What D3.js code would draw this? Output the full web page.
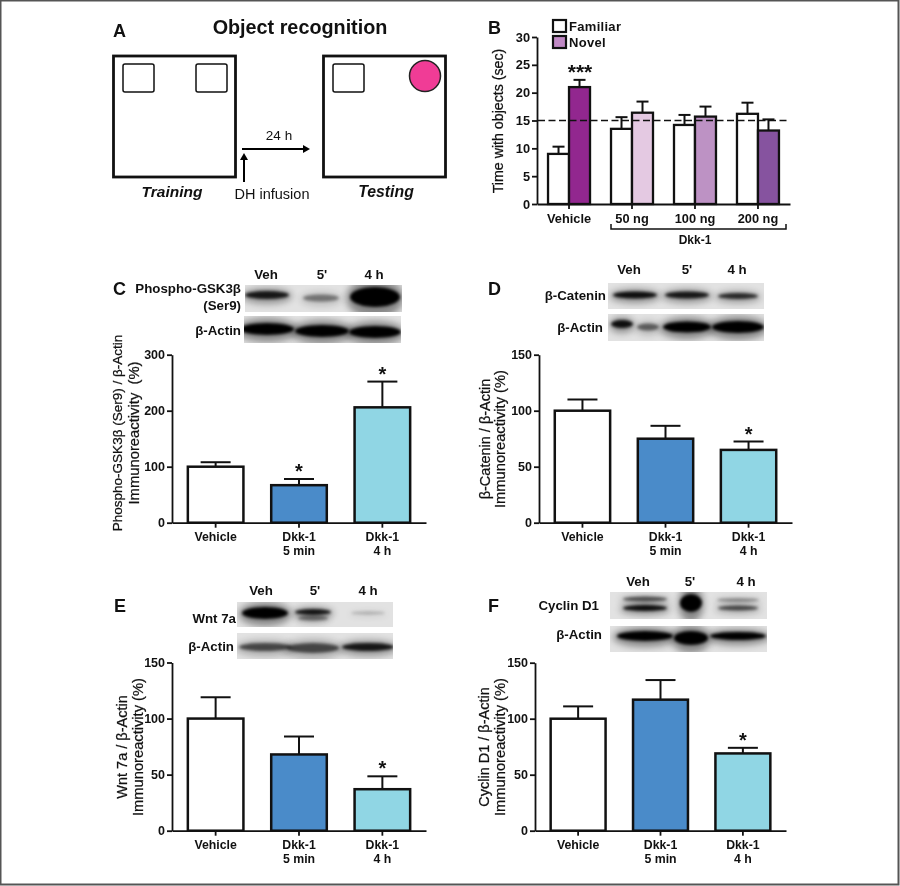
<!DOCTYPE html>
<html>
<head>
<meta charset="utf-8">
<title>Object recognition</title>
<script src="https://cdn.jsdelivr.net/npm/d3@7"></script>
<style>
  html, body { margin: 0; padding: 0; background: #fff; }
  svg { display: block; filter: blur(0.3px); }
  text { font-family: "Liberation Sans", Arial, sans-serif; fill: #111; }
  .tick text { font-weight: bold; font-size: 12.5px; }
  .b .tick text { font-size: 12.8px; }
  .ylab { stroke: #111; stroke-width: 0.25px; white-space: pre; }
</style>
</head>
<body>
<script>
'use strict';

// panel B
const groupsB = ["Vehicle", "50 ng", "100 ng", "200 ng"];
const familiar = [9, 13.5, 14.2, 16.2];
const familiarTop = [10.3, 15.6, 16, 18.2];
const novel = [21, 16.4, 15.7, 13.2];
const novelTop = [22.3, 18.4, 17.5, 15.2];
const novelColors = ["#92278f", "#e4c9e2", "#bd92c4", "#86539f"];
const ticksB = [0, 5, 10, 15, 20, 25, 30];

// panels C to F share the categories and colours
const categories = ["Vehicle", "Dkk-1|5 min", "Dkk-1|4 h"];
const barColors = ["#ffffff", "#4a8bc9", "#90d6e4"];

const valuesC = [100, 67, 206];
const topsC = [108, 78, 252];
const starsC = [false, true, true];
const ticksC = [0, 100, 200, 300];

const valuesD = [100, 75, 65];
const topsD = [110, 86.5, 72.5];
const starsD = [false, false, true];

const valuesE = [100, 68, 37];
const topsE = [119, 84, 48.5];
const starsE = [false, false, true];

const valuesF = [100, 117, 69];
const topsF = [111, 134.5, 74];
const starsF = [false, false, true];

const ticks150 = [0, 50, 100, 150];

const svg = d3.select('body').append('svg')
  .attr('width', 900)
  .attr('height', 886);

svg.append('rect').attr('width', 900).attr('height', 886).attr('fill', '#fff');

// frame round the figure
svg.append('rect')
  .attr('x', 0.5).attr('y', 0.5)
  .attr('width', 898).attr('height', 884)
  .attr('fill', 'none')
  .attr('stroke', '#555')
  .attr('stroke-width', 2);

let defs = svg.append('defs');
defs.append('filter').attr('id', 'soft')
  .attr('x', '-40%').attr('y', '-80%').attr('width', '180%').attr('height', '260%')
  .append('feGaussianBlur').attr('stdDeviation', 1.8);
defs.append('filter').attr('id', 'haze')
  .attr('x', '-40%').attr('y', '-80%').attr('width', '180%').attr('height', '260%')
  .append('feGaussianBlur').attr('stdDeviation', 3.5);

function label(x, y, str, size, opts) {
  opts = opts || {};
  return svg.append('text')
    .attr('x', x)
    .attr('y', y)
    .attr('text-anchor', opts.anchor || 'middle')
    .style('font-size', size + 'px')
    .style('font-weight', opts.weight || 'bold')
    .style('font-style', opts.italic ? 'italic' : 'normal')
    .text(str);
}

function arrowHead(d) {
  svg.append('path').attr('d', d).attr('fill', '#000');
}

// panel A: the arenas
function drawPanelA() {
  label(113, 37, 'A', 18, { anchor: 'start' });
  label(300, 34, 'Object recognition', 19.8);

  [113.5, 323.5].forEach((x) => {
    svg.append('rect')
      .attr('x', x).attr('y', 56)
      .attr('width', 122).attr('height', 121)
      .attr('fill', '#fff')
      .attr('stroke', '#111')
      .attr('stroke-width', 2.8);
  });

  [123, 196, 333].forEach((x) => {
    svg.append('rect')
      .attr('x', x).attr('y', 64)
      .attr('width', 31).attr('height', 28)
      .attr('rx', 2)
      .attr('fill', '#fff')
      .attr('stroke', '#111')
      .attr('stroke-width', 1.5);
  });

  svg.append('circle')
    .attr('cx', 425).attr('cy', 76).attr('r', 15.5)
    .attr('fill', '#f03c96')
    .attr('stroke', '#222')
    .attr('stroke-width', 1.5);

  svg.append('line').attr('x1', 242).attr('x2', 304).attr('y1', 149).attr('y2', 149)
    .attr('stroke', '#000').attr('stroke-width', 2);
  arrowHead('M310,149 L303,145 L303,153 Z');
  svg.append('line').attr('x1', 244).attr('x2', 244).attr('y1', 182).attr('y2', 159)
    .attr('stroke', '#000').attr('stroke-width', 2);
  arrowHead('M244,153 L240,160 L248,160 Z');

  label(279, 140, '24 h', 13.5, { weight: 'normal' });
  label(272, 199, 'DH infusion', 14.5, { weight: 'normal' });
  label(172, 197, 'Training', 15.5, { italic: true });
  label(386, 197, 'Testing', 15.8, { italic: true });
}

// panel B: grouped bars with the dashed line at 15
function drawPanelB() {
  let g = svg.append('g').attr('class', 'b');

  let y = d3.scaleLinear().domain([0, 30]).range([204, 37]);
  let x = d3.scaleBand().domain(groupsB).range([537, 790])
    .paddingInner(1 / 3).paddingOuter(0.175);
  let x1 = d3.scaleBand().domain(['Familiar', 'Novel']).range([0, x.bandwidth()]);

  let rows = [];
  groupsB.forEach((name, i) => {
    rows.push({ name: name, kind: 'Familiar', v: familiar[i], top: familiarTop[i], fill: '#fff' });
    rows.push({ name: name, kind: 'Novel', v: novel[i], top: novelTop[i], fill: novelColors[i] });
  });

  let cx = (d) => x(d.name) + x1(d.kind) + x1.bandwidth() / 2;

  // error bars first so the bar outline sits on top
  rows.forEach((d) => {
    g.append('line').attr('x1', cx(d)).attr('x2', cx(d)).attr('y1', y(d.v)).attr('y2', y(d.top))
      .attr('stroke', '#111').attr('stroke-width', 2);
    g.append('line').attr('x1', cx(d) - 6).attr('x2', cx(d) + 6).attr('y1', y(d.top)).attr('y2', y(d.top))
      .attr('stroke', '#111').attr('stroke-width', 2);
  });

  g.selectAll('.bar').data(rows).enter()
    .append('rect')
    .attr('x', (d) => x(d.name) + x1(d.kind))
    .attr('y', (d) => y(d.v))
    .attr('width', x1.bandwidth())
    .attr('height', (d) => y(0) - y(d.v))
    .attr('fill', (d) => d.fill)
    .attr('stroke', '#111')
    .attr('stroke-width', 2.3);

  g.append('line')
    .attr('x1', 538).attr('x2', 787)
    .attr('y1', y(15)).attr('y2', y(15))
    .attr('stroke', '#111')
    .attr('stroke-width', 1.6)
    .attr('stroke-dasharray', '7,3.5');

  let yAxis = d3.axisLeft(y).tickValues(ticksB).tickSize(5).tickSizeOuter(0).tickPadding(2);
  g.append('g').attr('transform', 'translate(537,0)').call(yAxis);

  let xAxis = d3.axisBottom(x).tickSize(5).tickSizeOuter(0).tickPadding(5);
  g.append('g').attr('transform', 'translate(0,204)').call(xAxis);

  g.selectAll('.domain, .tick line').attr('stroke', '#111').attr('stroke-width', 1.8);
  g.selectAll('.tick text').attr('fill', '#111');

  // legend
  [['Familiar', '#fff', 28], ['Novel', '#c089c5', 44]].forEach((row) => {
    g.append('rect').attr('x', 553).attr('y', row[2] - 8).attr('width', 13).attr('height', 12)
      .attr('fill', row[1]).attr('stroke', '#111').attr('stroke-width', 2.2);
    label(569, row[2] + 3, row[0], 13, { anchor: 'start' }).style('letter-spacing', '0.3px');
  });

  label(488, 34, 'B', 18, { anchor: 'start' });
  label(580, 79, '***', 21);

  // Dkk-1 bracket
  g.append('path')
    .attr('d', 'M611,224 V229 H786 V224')
    .attr('fill', 'none')
    .attr('stroke', '#111')
    .attr('stroke-width', 1.5);
  label(695, 244, 'Dkk-1', 12);

  svg.append('text')
    .attr('class', 'ylab')
    .attr('transform', 'translate(503,121)rotate(-90)')
    .attr('text-anchor', 'middle')
    .style('font-size', '14.2px')
    .text('Time with objects (sec)');
}

// one of the lower panels: three bars with error caps and a western blot above
function drawBars(p) {
  let g = svg.append('g');

  let y = d3.scaleLinear().domain(p.domain).range([p.y0, p.y1]);
  let x = d3.scaleBand().domain(categories).range([p.axisX, p.axisEnd])
    .paddingInner(1 / 3).paddingOuter(0.19);

  let rows = categories.map((c, i) => ({
    c: c, v: p.values[i], top: p.tops[i], fill: barColors[i], star: p.stars[i]
  }));
  let cx = (d) => x(d.c) + x.bandwidth() / 2;

  rows.forEach((d) => {
    g.append('line').attr('x1', cx(d)).attr('x2', cx(d)).attr('y1', y(d.v)).attr('y2', y(d.top))
      .attr('stroke', '#111').attr('stroke-width', 2);
    g.append('line').attr('x1', cx(d) - 15).attr('x2', cx(d) + 15).attr('y1', y(d.top)).attr('y2', y(d.top))
      .attr('stroke', '#111').attr('stroke-width', 2);
    if (d.star) {
      label(cx(d), y(d.top) - 1, '*', 20);
    }
  });

  g.selectAll('.bar').data(rows).enter()
    .append('rect')
    .attr('x', (d) => x(d.c))
    .attr('y', (d) => y(d.v))
    .attr('width', x.bandwidth())
    .attr('height', (d) => y(0) - y(d.v))
    .attr('fill', (d) => d.fill)
    .attr('stroke', '#111')
    .attr('stroke-width', 2.5);

  let yAxis = d3.axisLeft(y).tickValues(p.ticks).tickSize(5).tickSizeOuter(0).tickPadding(2);
  g.append('g').attr('transform', 'translate(' + p.axisX + ',0)').call(yAxis);

  let xAxis = d3.axisBottom(x).tickSize(5).tickSizeOuter(0).tickPadding(3).tickFormat('');
  g.append('g').attr('transform', 'translate(0,' + p.y0 + ')').call(xAxis);

  g.selectAll('.domain, .tick line').attr('stroke', '#111').attr('stroke-width', 1.8);
  g.selectAll('.tick text').attr('fill', '#111');

  // x labels are two lines so they are added by hand
  categories.forEach((c) => {
    let parts = c.split('|');
    let mid = x(c) + x.bandwidth() / 2;
    parts.forEach((t, k) => {
      label(mid, p.y0 + 18 + k * 14, t, 12.3);
    });
  });

  // rotated y label, two lines
  p.yLabel.forEach((t, k) => {
    svg.append('text')
      .attr('class', 'ylab')
      .attr('transform', 'translate(' + p.labelX[k] + ',' + p.labelY + ')rotate(-90)')
      .attr('text-anchor', 'middle')
      .style('font-size', p.labelSize[k] + 'px')
      .text(t);
  });

  label(p.letter[1], p.letter[2], p.letter[0], 18, { anchor: 'start' });
}

// the blot photographs are only approximated: grey strip plus blurred dark bands
function drawBlot(x, y, w, h, bands) {
  let g = svg.append('g');
  g.append('rect')
    .attr('x', x).attr('y', y)
    .attr('width', w).attr('height', h)
    .attr('fill', '#e2e2e2');

  let clipId = 'clip' + x + '_' + y;
  defs.append('clipPath').attr('id', clipId)
    .append('rect').attr('x', x).attr('y', y).attr('width', w).attr('height', h);

  let inner = g.append('g').attr('clip-path', 'url(#' + clipId + ')');
  bands.forEach((b) => {
    // wide pale smear under each band
    inner.append('ellipse')
      .attr('cx', b[0]).attr('cy', b[1] + 1)
      .attr('rx', b[2] * 1.15).attr('ry', b[3] * 2)
      .attr('fill', '#000')
      .attr('opacity', b[4] * 0.4)
      .attr('filter', 'url(#haze)');
    inner.append('ellipse')
      .attr('cx', b[0]).attr('cy', b[1])
      .attr('rx', b[2]).attr('ry', b[3])
      .attr('fill', '#000')
      .attr('opacity', b[4])
      .attr('filter', 'url(#soft)');
  });
}

function drawBlotLabels(rows) {
  rows.forEach((r) => {
    label(r[0], r[1], r[2], 13.3, { anchor: r[3] || 'middle' });
  });
}

drawPanelA();
drawPanelB();

drawBars({
  domain: [0, 300], values: valuesC, tops: topsC, stars: starsC, ticks: ticksC,
  y0: 522.7, y1: 354.7, axisX: 172, axisEnd: 426,
  yLabel: ['Phospho-GSK3β (Ser9) / β-Actin', 'Immunoreactivity  (%)'],
  labelX: [122, 139], labelSize: [13.5, 14.8], labelY: 433,
  letter: ['C', 113, 295]
});
drawBars({
  domain: [0, 150], values: valuesD, tops: topsD, stars: starsD, ticks: ticks150,
  y0: 522.7, y1: 354.7, axisX: 539, axisEnd: 792,
  yLabel: ['β-Catenin / β-Actin', 'Immunoreactivity (%)'],
  labelX: [490, 505], labelSize: [14.5, 14.7], labelY: 439,
  letter: ['D', 488, 295]
});
drawBars({
  domain: [0, 150], values: valuesE, tops: topsE, stars: starsE, ticks: ticks150,
  y0: 830.7, y1: 662.5, axisX: 172, axisEnd: 426,
  yLabel: ['Wnt 7a / β-Actin', 'Immunoreactivity (%)'],
  labelX: [127, 143], labelSize: [14.5, 14.7], labelY: 747,
  letter: ['E', 114, 612]
});
drawBars({
  domain: [0, 150], values: valuesF, tops: topsF, stars: starsF, ticks: ticks150,
  y0: 830.7, y1: 662.7, axisX: 535, axisEnd: 786,
  yLabel: ['Cyclin D1 / β-Actin', 'Immunoreactivity (%)'],
  labelX: [489, 505], labelSize: [14.5, 14.7], labelY: 747,
  letter: ['F', 488, 612]
});

// blots: [cx, cy, rx, ry, darkness]
drawBlot(245, 285, 157, 27, [[267, 295, 22, 4, 0.85], [321, 298, 18, 3.5, 0.4], [375, 297, 25, 10, 1]]);
drawBlot(244, 316, 157, 27, [[267, 329, 27, 6, 1], [322, 331, 27, 6, 1], [375, 332, 26, 6, 1]]);
drawBlotLabels([
  [266, 279, 'Veh'], [322, 279, "5'"], [374, 279, '4 h'],
  [241, 293, 'Phospho-GSK3β', 'end'], [241, 310, '(Ser9)', 'end'], [241, 335, 'β-Actin', 'end']
]);

drawBlot(608, 283, 156, 26, [[635, 295, 22, 3.5, 0.9], [687, 295, 22, 3.5, 0.85], [738, 296, 20, 3, 0.75]]);
drawBlot(608, 314, 156, 27, [[622, 324, 11, 4, 0.9], [648, 327, 11, 3.5, 0.5], [687, 327, 24, 5.5, 1], [738, 327, 26, 6, 1]]);
drawBlotLabels([
  [629, 274, 'Veh'], [687, 274, "5'"], [737, 274, '4 h'],
  [606, 300, 'β-Catenin', 'end'], [603, 332, 'β-Actin', 'end']
]);

drawBlot(237, 602, 156, 25, [[265, 613, 23, 6, 1], [313, 612, 18, 3, 0.85], [313, 618, 15, 2.5, 0.4], [368, 613, 17, 1.5, 0.2]]);
drawBlot(237, 633, 156, 26, [[265, 647, 26, 4, 0.6], [313, 648, 26, 5, 0.6], [368, 647, 26, 4, 0.85]]);
drawBlotLabels([
  [261, 595, 'Veh'], [315, 595, "5'"], [368, 595, '4 h'],
  [236, 623, 'Wnt 7a', 'end'], [234, 651, 'β-Actin', 'end']
]);

drawBlot(610, 592, 157, 27, [[645, 599, 22, 2.5, 0.55], [645, 608, 22, 3, 0.9], [691, 603, 11, 9, 1], [738, 600, 21, 2, 0.3], [738, 608, 20, 2.5, 0.6]]);
drawBlot(610, 626, 157, 26, [[645, 636, 28, 5, 1], [691, 638, 17, 7, 1], [738, 636, 28, 4, 1]]);
drawBlotLabels([
  [638, 586, 'Veh'], [690, 586, "5'"], [746, 586, '4 h'],
  [599, 610, 'Cyclin D1', 'end'], [602, 639, 'β-Actin', 'end']
]);
</script>
</body>
</html>
